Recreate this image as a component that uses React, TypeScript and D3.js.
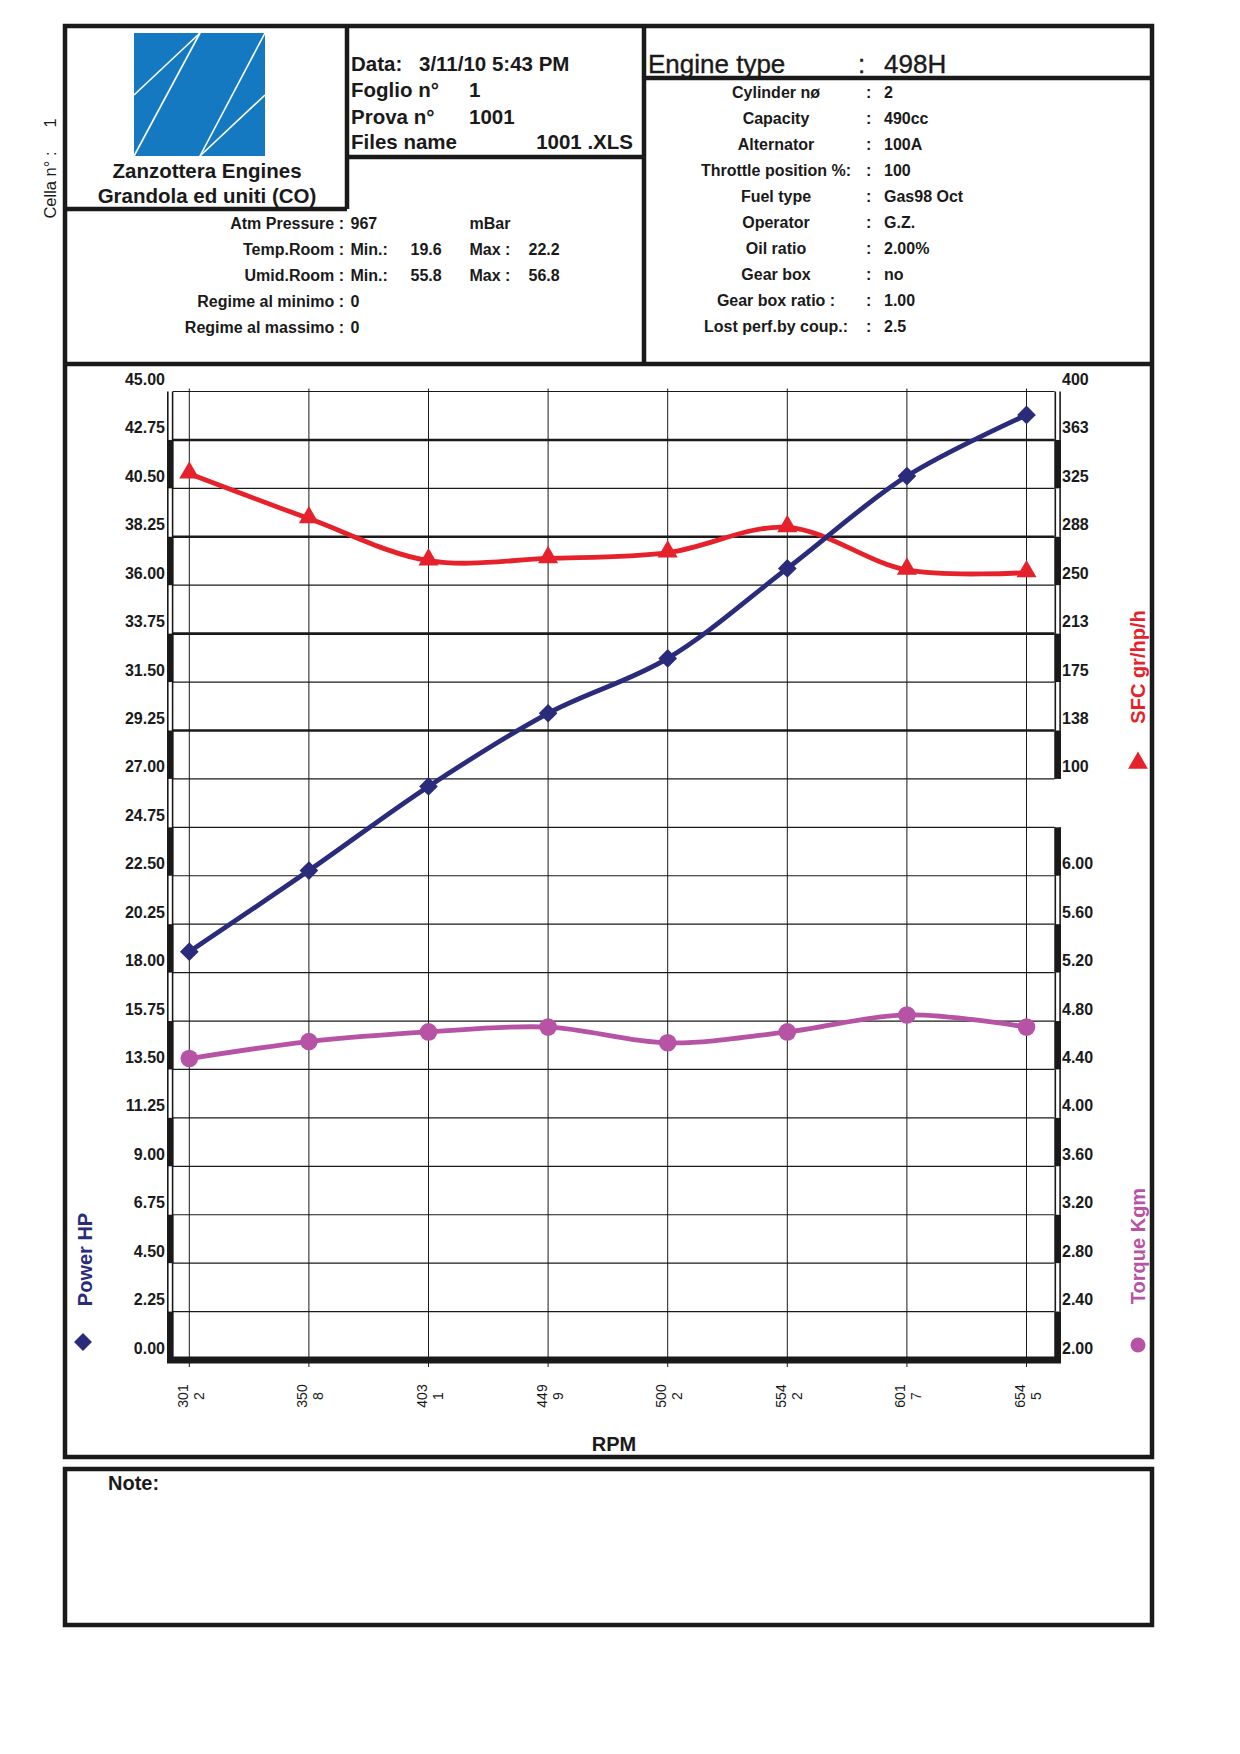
import * as d3 from 'd3';

// test points (RPM split on two lines in the original sheet)
const rpm = ['3012', '3508', '4031', '4499', '5002', '5542', '6017', '6545'];
const powerHP = [18.97, 22.74, 26.65, 30.05, 32.6, 36.78, 41.07, 43.91];
const sfcGrHpH = [336.3, 301.6, 269.0, 270.7, 275.2, 294.8, 261.8, 259.8];
const torqueKgm = [4.49, 4.63, 4.71, 4.75, 4.62, 4.71, 4.85, 4.75];

const hpTicks = [0, 2.25, 4.5, 6.75, 9, 11.25, 13.5, 15.75, 18, 20.25, 22.5, 24.75, 27, 29.25, 31.5, 33.75, 36, 38.25, 40.5, 42.75, 45];
const sfcTicks = [100, 137.5, 175, 212.5, 250, 287.5, 325, 362.5, 400];
const sfcMajor = [137.5, 212.5, 287.5, 362.5];
const torqueTicks = [2, 2.4, 2.8, 3.2, 3.6, 4, 4.4, 4.8, 5.2, 5.6, 6];

const headerInfo = [
  ['Data:', '3/11/10 5:43 PM'],
  ['Foglio n°', '1'],
  ['Prova n°', '1001'],
];
const filesName = ['Files name', '1001 .XLS'];

const roomInfo = [
  ['Atm Pressure :', '967', '', 'mBar', ''],
  ['Temp.Room :', 'Min.:', '19.6', 'Max :', '22.2'],
  ['Umid.Room :', 'Min.:', '55.8', 'Max :', '56.8'],
  ['Regime al minimo :', '0', '', '', ''],
  ['Regime al massimo :', '0', '', '', ''],
];

const engineSpecs = [
  ['Cylinder nø', '2'],
  ['Capacity', '490cc'],
  ['Alternator', '100A'],
  ['Throttle position %:', '100'],
  ['Fuel type', 'Gas98 Oct'],
  ['Operator', 'G.Z.'],
  ['Oil ratio', '2.00%'],
  ['Gear box', 'no'],
  ['Gear box ratio :', '1.00'],
  ['Lost perf.by coup.:', '2.5'],
];

const NAVY = '#2b2b7c';
const RED = '#e5222b';
const MAGENTA = '#b653a4';
const FONT = "'Liberation Sans', Arial, sans-serif";

export default function App() {
  const W = 1240;
  const H = 1754;
  const plot = { left: 173, right: 1054.5, top: 391.5, bottom: 1360 };

  const x = d3.scalePoint<string>().domain(rpm).range([189.3, 1026.5]);
  const yHP = d3.scaleLinear().domain([0, 45]).range([plot.bottom, plot.top]);
  const ySFC = d3.scaleLinear().domain([-350, 400]).range([plot.bottom, plot.top]);
  const yTq = d3.scaleLinear().domain([2, 10]).range([plot.bottom, plot.top]);

  const curve = d3.curveCatmullRom.alpha(0.5);
  const line = (vals: number[], y: d3.ScaleLinear<number, number>) =>
    d3
      .line<number>()
      .x((_, i) => x(rpm[i]) || 0)
      .y((v) => y(v))
      .curve(curve)(vals) || '';

  const diamond = d3.symbol().type(d3.symbolSquare).size(175)() || '';
  const diamondBig = d3.symbol().type(d3.symbolSquare).size(160)() || '';
  const triangle = d3.symbol().type(d3.symbolTriangle).size(175)() || '';
  const triangleBig = d3.symbol().type(d3.symbolTriangle).size(170)() || '';

  const fmt2 = d3.format('.2f');
  const fmt0 = (v: number) => v.toFixed(0);

  // axis bar segments: k = index of segment from the bottom
  const segs = hpTicks.slice(0, -1).map((v, k) => ({ k, y0: yHP(hpTicks[k + 1]), y1: yHP(v) }));
  const rightSegs = segs.filter((s) => s.k <= 10 || s.k >= 12);

  const border = 4.5;

  return (
    <svg
      width={W}
      height={H}
      viewBox={`0 0 ${W} ${H}`}
      style={{ position: 'absolute', left: 0, top: 0, background: '#fff', fontFamily: FONT }}
    >
      <rect x={0} y={0} width={W} height={H} fill="#fff" />

      {/* frames */}
      <g fill="none" stroke="#1a1a1a" strokeWidth={border}>
        <rect x={65} y={26} width={1087} height={1431} />
        <line x1={65} x2={1152} y1={364} y2={364} />
        <line x1={347} x2={347} y1={26} y2={209} />
        <line x1={65} x2={347} y1={209} y2={209} />
        <line x1={347} x2={644} y1={157} y2={157} />
        <line x1={644} x2={644} y1={26} y2={364} />
        <line x1={644} x2={1152} y1={78} y2={78} />
        <rect x={65} y={1469} width={1087} height={156} />
      </g>

      {/* logo */}
      <rect x={134} y={33} width={131} height={123} fill="#1479c0" />
      <g stroke="#fff" strokeWidth={1.6}>
        <line x1={134} y1={95} x2={200} y2={33} />
        <line x1={134} y1={156} x2={200} y2={33} />
        <line x1={200} y1={156} x2={265} y2={33} />
        <line x1={200} y1={156} x2={265} y2={95} />
      </g>
      <g fontWeight="bold" fontSize={20.5} textAnchor="middle" fill="#1a1a1a">
        <text x={207} y={177.5}>Zanzottera Engines</text>
        <text x={207} y={202.5}>Grandola ed uniti (CO)</text>
      </g>

      {/* cella */}
      <g fontSize={16.5} fill="#1a1a1a" textAnchor="middle">
        <text transform="translate(56,185) rotate(-90)">Cella n° :</text>
        <text transform="translate(56,123) rotate(-90)">1</text>
      </g>

      {/* header data */}
      <g fontWeight="bold" fontSize={20.5} fill="#1a1a1a">
        {headerInfo.map((r, i) => (
          <g key={r[0]}>
            <text x={351} y={70.5 + i * 26.5}>{r[0]}</text>
            <text x={i === 0 ? 419 : 469} y={70.5 + i * 26.5}>{r[1]}</text>
          </g>
        ))}
        <text x={351} y={149}>{filesName[0]}</text>
        <text x={633} y={149} textAnchor="end">{filesName[1]}</text>
      </g>

      {/* room info */}
      <g fontWeight="bold" fontSize={16} fill="#1a1a1a">
        {roomInfo.map((r, i) => {
          const yy = 229 + i * 26;
          const cols = [350.5, 410.5, 469.5, 528.5];
          return (
            <g key={r[0]}>
              <text x={344} y={yy} textAnchor="end">{r[0]}</text>
              {r.slice(1).map((c, j) => (c ? <text key={j} x={cols[j]} y={yy}>{c}</text> : null))}
            </g>
          );
        })}
      </g>

      {/* engine */}
      <g fontSize={26} fill="#1a1a1a" stroke="#1a1a1a" strokeWidth={0.35}>
        <text x={648} y={73}>Engine type</text>
        <text x={858} y={73}>:</text>
        <text x={884} y={73}>498H</text>
      </g>
      <g fontWeight="bold" fontSize={16} fill="#1a1a1a">
        {engineSpecs.map((r, i) => {
          const yy = 98 + i * 26;
          return (
            <g key={r[0]}>
              <text x={776} y={yy} textAnchor="middle">{r[0]}</text>
              <text x={866} y={yy}>:</text>
              <text x={884} y={yy}>{r[1]}</text>
            </g>
          );
        })}
      </g>

      {/* grid */}
      <g stroke="#1a1a1a">
        {hpTicks.slice(1).map((v) => (
          <line key={v} x1={plot.left} x2={plot.right} y1={yHP(v)} y2={yHP(v)} strokeWidth={1.2} />
        ))}
        {sfcMajor.map((v) => (
          <line key={v} x1={plot.left} x2={plot.right} y1={ySFC(v)} y2={ySFC(v)} strokeWidth={2.6} />
        ))}
        {rpm.map((r) => (
          <line key={r} x1={x(r)} x2={x(r)} y1={plot.top - 3} y2={plot.bottom + 7} strokeWidth={1} />
        ))}
      </g>

      {/* axis bars */}
      <g fill="#1a1a1a">
        <rect x={167} y={plot.top} width={1.6} height={plot.bottom - plot.top} />
        <rect x={171.8} y={plot.top} width={1.6} height={plot.bottom - plot.top} />
        {segs.filter((s) => s.k % 2 === 0).map((s) => (
          <rect key={s.k} x={167} y={s.y0} width={6.4} height={s.y1 - s.y0} />
        ))}
        {rightSegs.map((s) => (
          <g key={s.k}>
            <rect x={1054.5} y={s.y0} width={1.6} height={s.y1 - s.y0} />
            <rect x={1059.3} y={s.y0} width={1.6} height={s.y1 - s.y0} />
            {s.k % 2 === 0 ? <rect x={1054.5} y={s.y0} width={6.4} height={s.y1 - s.y0} /> : null}
          </g>
        ))}
        <rect x={167} y={plot.bottom - 3.5} width={1061 - 167} height={7} />
      </g>

      {/* tick labels */}
      <g fontWeight="bold" fontSize={16} fill="#1a1a1a">
        {hpTicks.map((v) => (
          <text key={v} x={165} y={yHP(v) - 6.5} textAnchor="end">{fmt2(v)}</text>
        ))}
        {sfcTicks.map((v) => (
          <text key={v} x={1062} y={ySFC(v) - 6.5}>{fmt0(v)}</text>
        ))}
        {torqueTicks.map((v) => (
          <text key={v} x={1062} y={yTq(v) - 6.5}>{fmt2(v)}</text>
        ))}
      </g>
      <g fontSize={14} fill="#1a1a1a" textAnchor="middle">
        {rpm.map((r) => (
          <text key={r} transform={`translate(${x(r)},1396) rotate(-90)`}>
            <tspan x={0} y={-1.5}>{r.slice(0, 3)}</tspan>
            <tspan x={0} y={14.5}>{r.slice(3)}</tspan>
          </text>
        ))}
      </g>

      {/* series */}
      <path d={line(sfcGrHpH, ySFC)} fill="none" stroke={RED} strokeWidth={4.8} />
      <path d={line(torqueKgm, yTq)} fill="none" stroke={MAGENTA} strokeWidth={4.8} />
      <path d={line(powerHP, yHP)} fill="none" stroke={NAVY} strokeWidth={4.8} />
      {sfcGrHpH.map((v, i) => (
        <path key={i} d={triangle} transform={`translate(${x(rpm[i])},${ySFC(v) - 1})`} fill={RED} />
      ))}
      {torqueKgm.map((v, i) => (
        <circle key={i} cx={x(rpm[i])} cy={yTq(v)} r={8.8} fill={MAGENTA} />
      ))}
      {powerHP.map((v, i) => (
        <path key={i} d={diamond} transform={`translate(${x(rpm[i])},${yHP(v)}) rotate(45)`} fill={NAVY} />
      ))}

      {/* axis titles */}
      <g fontWeight="bold" fontSize={20} textAnchor="middle">
        <text transform="translate(92,1259.5) rotate(-90)" fill={NAVY}>Power HP</text>
        <text transform="translate(1145,667) rotate(-90)" fill={RED}>SFC gr/hp/h</text>
        <text transform="translate(1145,1246) rotate(-90)" fill={MAGENTA}>Torque Kgm</text>
        <text x={614} y={1451} fill="#1a1a1a">RPM</text>
      </g>
      <path d={diamondBig} transform="translate(83,1342) rotate(45)" fill={NAVY} />
      <path d={triangleBig} transform="translate(1138,763)" fill={RED} />
      <circle cx={1138} cy={1345} r={7.5} fill={MAGENTA} />

      <text x={108} y={1490} fontWeight="bold" fontSize={20} fill="#1a1a1a">Note:</text>
    </svg>
  );
}
